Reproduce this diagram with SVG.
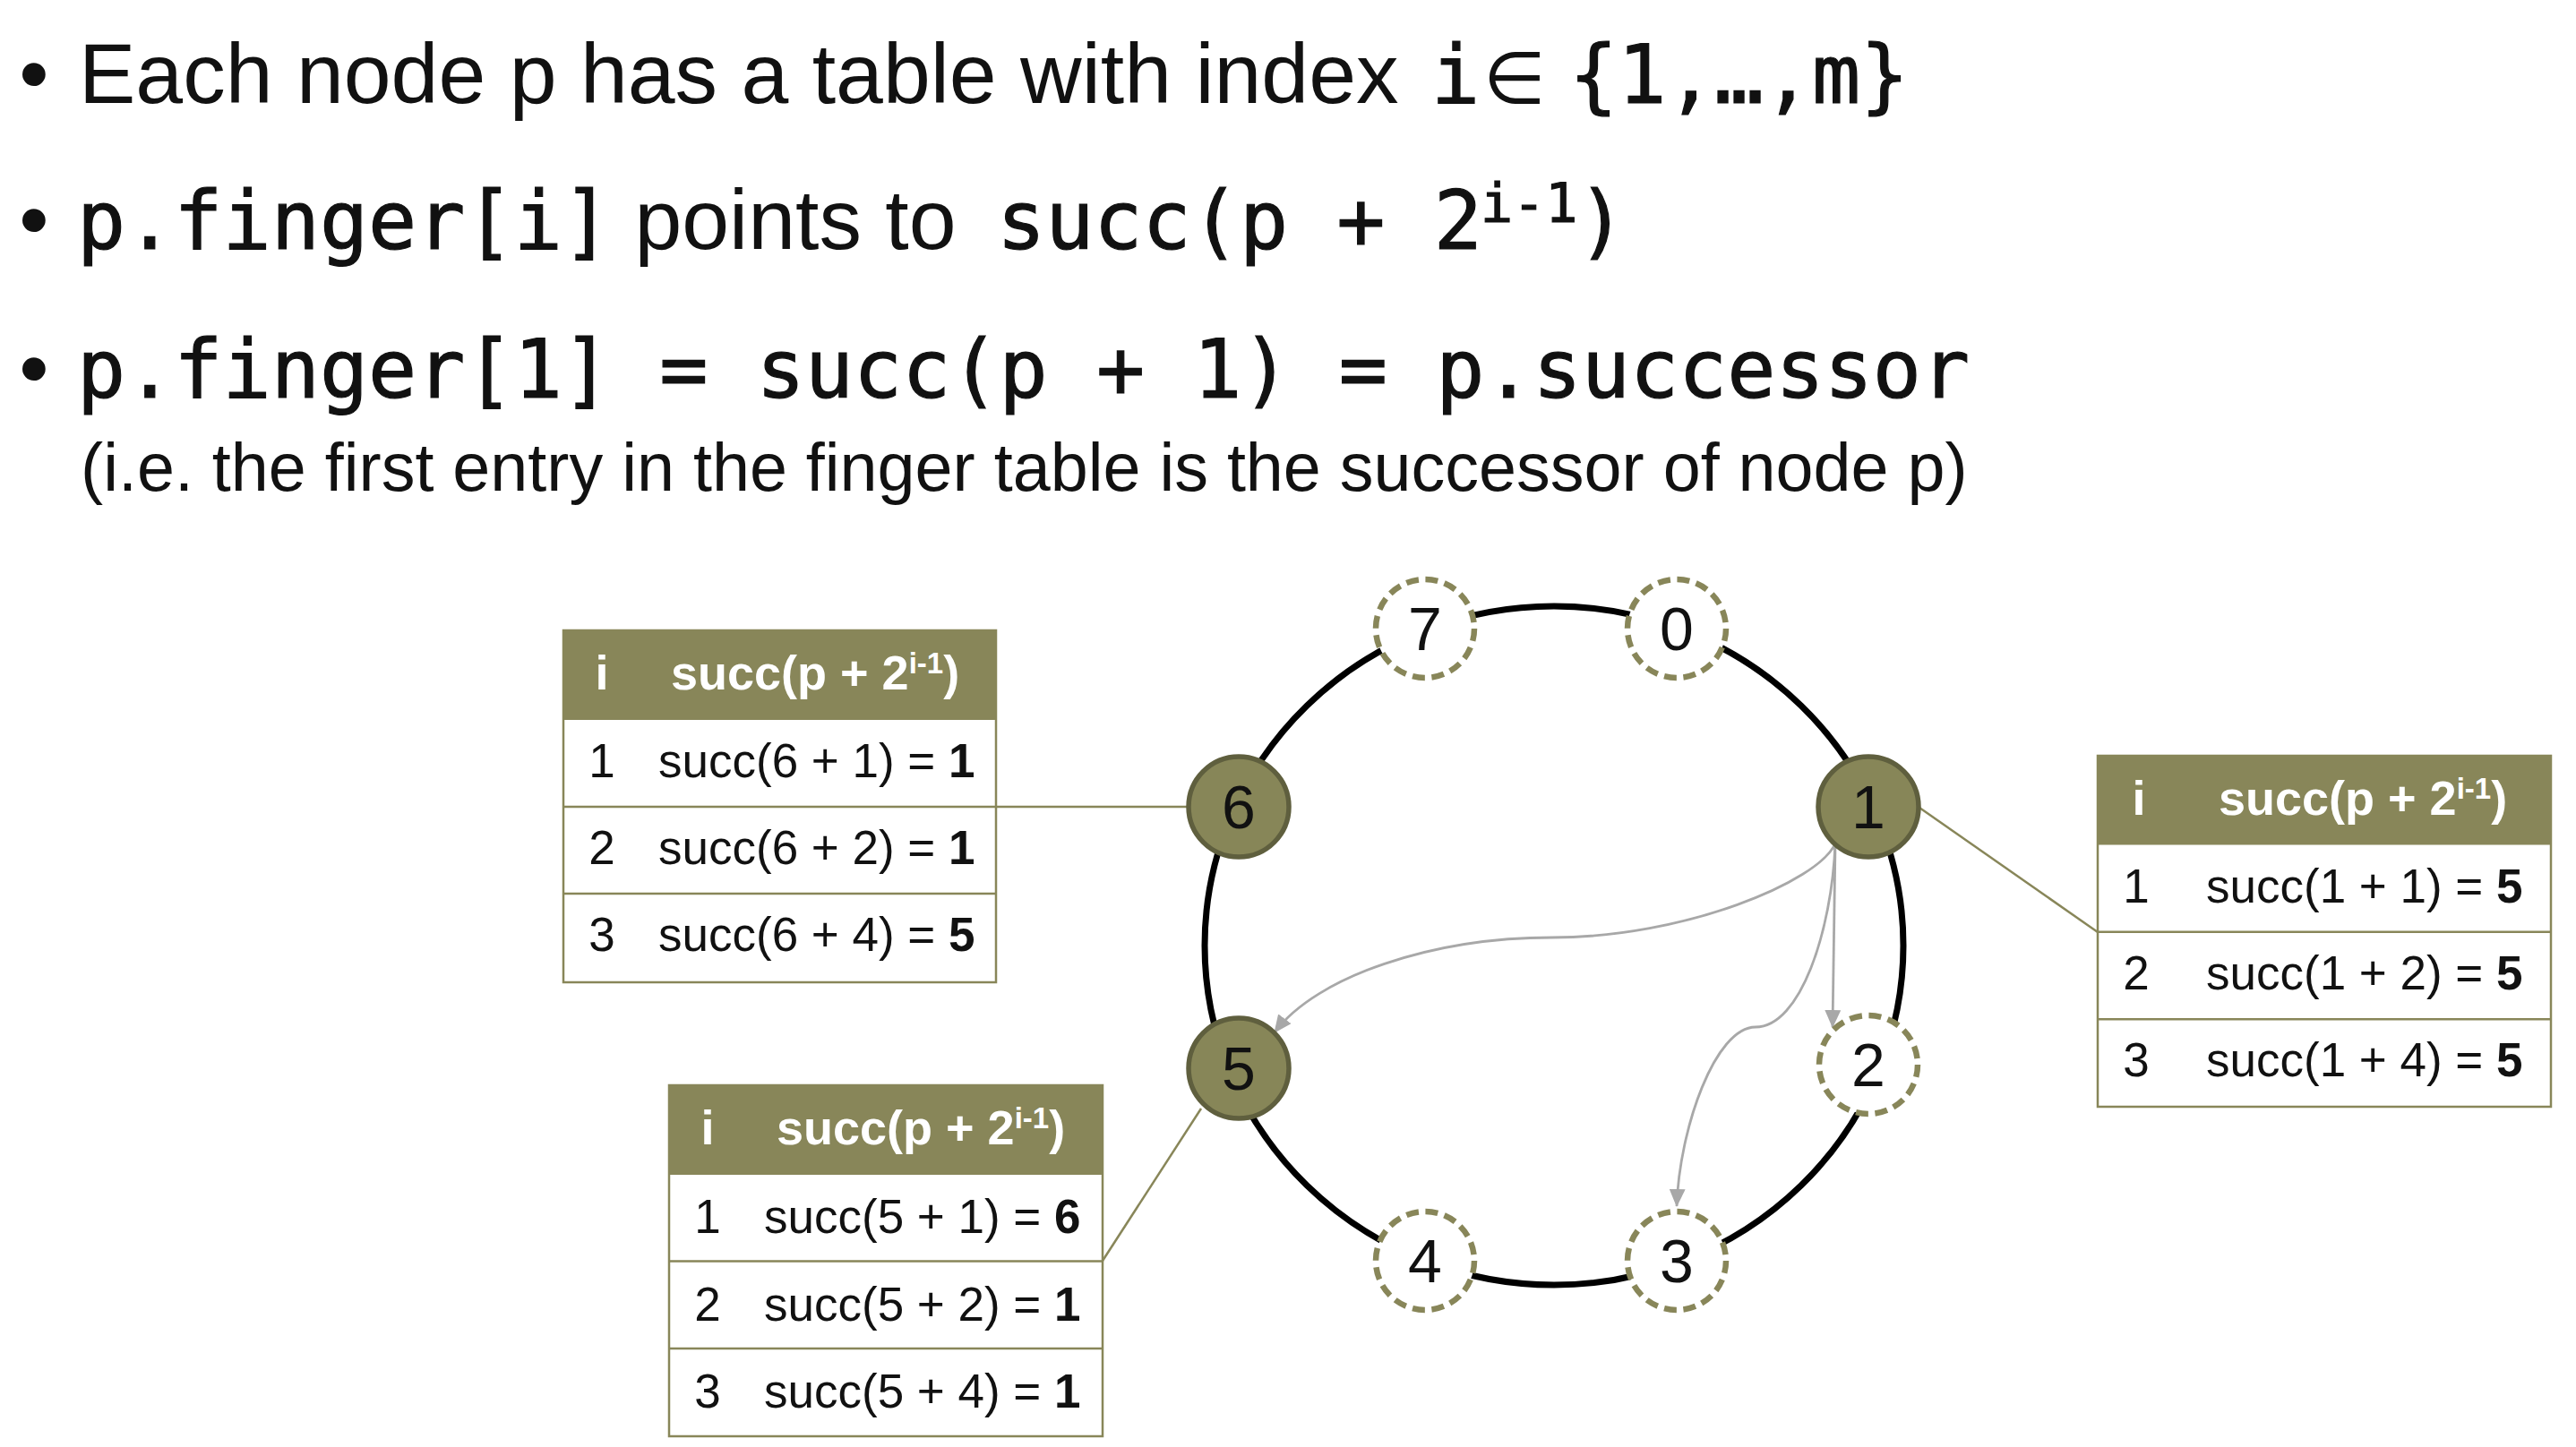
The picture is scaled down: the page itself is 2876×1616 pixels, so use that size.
<svg xmlns="http://www.w3.org/2000/svg" width="2876" height="1616" viewBox="0 0 2876 1616">
<style>
.sans{font-family:"Liberation Sans",Arial,sans-serif;fill:#111}
.mono{font-family:"DejaVu Sans Mono","Liberation Mono",monospace;fill:#111;stroke:#111;stroke-width:1.2}
.l1{font-size:95px}
.m{font-size:90px}
.l4{font-size:75.5px}
.tb{fill:#fff;stroke:#888659;stroke-width:2.5}
.th{fill:#888659}
.sep{stroke:#888659;stroke-width:2.5}
.hd{font-family:"Liberation Sans",Arial,sans-serif;font-weight:bold;fill:#fff;font-size:54px}
.sup{font-size:33px}
.rw{font-family:"Liberation Sans",Arial,sans-serif;font-size:53px;fill:#111}
.b{font-weight:bold}
.ring{fill:none;stroke:#000;stroke-width:7}
.on{fill:#878658;stroke:#5f5f3e;stroke-width:5.5}
.off{fill:#fff;stroke:#888659;stroke-width:6.5;stroke-dasharray:14 7.6}
.nl{font-family:"Liberation Sans",Arial,sans-serif;font-size:68px;fill:#111;text-anchor:middle}
.conn{stroke:#888659;stroke-width:2.5;fill:none}
.arw{stroke:#a8a8a8;stroke-width:2.8;fill:none;marker-end:url(#arr)}
</style>
<defs>
<marker id="arr" markerWidth="20" markerHeight="18" refX="19" refY="9" orient="auto" markerUnits="userSpaceOnUse"><path d="M0,0 L20,9 L0,18 Z" fill="#a8a8a8"/></marker>
</defs>
<rect width="2876" height="1616" fill="#fff"/>

<g id="text">
<text class="sans l1" x="38" y="115" text-anchor="middle">•</text>
<text class="sans l1" x="88" y="115">Each node p has a table with index <tspan class="mono m" x="1598">i</tspan><tspan x="1656" style="font-family:'DejaVu Sans',sans-serif;font-size:80px">∈</tspan><tspan class="mono m" x="1752">{1,…,m}</tspan></text>

<text class="sans l1" x="38" y="278" text-anchor="middle">•</text>
<text class="mono m" x="86" y="278">p.finger[i]<tspan class="sans l1" style="stroke:none"> points to </tspan><tspan x="1113">succ(p + 2</tspan><tspan x="1653" y="248" style="font-size:60px">i-1</tspan><tspan x="1761" y="278">)</tspan></text>

<text class="sans l1" x="38" y="444" text-anchor="middle">•</text>
<text class="mono m" x="86" y="444">p.finger[1] = succ(p + 1) = p.successor</text>

<text class="sans l4" x="90" y="548">(i.e. the first entry in the finger table is the successor of node p)</text>
</g>

<g id="connectors">
<line class="conn" x1="1112" y1="901" x2="1326" y2="901"/>
<line class="conn" x1="1231" y1="1408" x2="1341" y2="1238"/>
<line class="conn" x1="2342" y1="1041" x2="2143" y2="902"/>
<path class="arw" d="M2049,942 L2046,1147"/>
<path class="arw" d="M2049,942 C2030,985 1880,1047 1733,1047 C1600,1047 1470,1090 1423,1153"/>
<path class="arw" d="M2049,942 C2045,1040 2010,1147 1960,1147 C1915,1147 1875,1260 1872,1347"/>
</g>

<ellipse id="ring" class="ring" cx="1735" cy="1056" rx="390" ry="379"/>

<g id="node-0"><circle class="off" cx="1872" cy="702" r="55"/><text class="nl" x="1872" y="726">0</text></g>
<g id="node-1"><circle class="on" cx="2086" cy="901" r="56"/><text class="nl" x="2086" y="925">1</text></g>
<g id="node-2"><circle class="off" cx="2086" cy="1189" r="55"/><text class="nl" x="2086" y="1213">2</text></g>
<g id="node-3"><circle class="off" cx="1872" cy="1408" r="55"/><text class="nl" x="1872" y="1432">3</text></g>
<g id="node-4"><circle class="off" cx="1591" cy="1408" r="55"/><text class="nl" x="1591" y="1432">4</text></g>
<g id="node-5"><circle class="on" cx="1383" cy="1193" r="56"/><text class="nl" x="1383" y="1217">5</text></g>
<g id="node-6"><circle class="on" cx="1383" cy="901" r="56"/><text class="nl" x="1383" y="925">6</text></g>
<g id="node-7"><circle class="off" cx="1591" cy="702" r="55"/><text class="nl" x="1591" y="726">7</text></g>

<g id="table-6">
<rect class="tb" x="629" y="704" width="483" height="393"/>
<rect class="th" x="629" y="704" width="483" height="100"/>
<line class="sep" x1="629" y1="901" x2="1112" y2="901"/>
<line class="sep" x1="629" y1="998" x2="1112" y2="998"/>
<text class="hd" x="672" y="770" text-anchor="middle">i</text>
<text class="hd" x="749" y="770">succ(p + 2<tspan class="sup" dy="-18">i-1</tspan><tspan dy="18">)</tspan></text>
<text class="rw" x="672" y="868" text-anchor="middle">1</text>
<text class="rw" x="735" y="868">succ(6 + 1) = <tspan class="b">1</tspan></text>
<text class="rw" x="672" y="965" text-anchor="middle">2</text>
<text class="rw" x="735" y="965">succ(6 + 2) = <tspan class="b">1</tspan></text>
<text class="rw" x="672" y="1062" text-anchor="middle">3</text>
<text class="rw" x="735" y="1062">succ(6 + 4) = <tspan class="b">5</tspan></text>
</g>

<g id="table-5">
<rect class="tb" x="747" y="1212" width="484" height="392"/>
<rect class="th" x="747" y="1212" width="484" height="100"/>
<line class="sep" x1="747" y1="1408.5" x2="1231" y2="1408.5"/>
<line class="sep" x1="747" y1="1506" x2="1231" y2="1506"/>
<text class="hd" x="790" y="1278" text-anchor="middle">i</text>
<text class="hd" x="867" y="1278">succ(p + 2<tspan class="sup" dy="-18">i-1</tspan><tspan dy="18">)</tspan></text>
<text class="rw" x="790" y="1377" text-anchor="middle">1</text>
<text class="rw" x="853" y="1377">succ(5 + 1) = <tspan class="b">6</tspan></text>
<text class="rw" x="790" y="1475" text-anchor="middle">2</text>
<text class="rw" x="853" y="1475">succ(5 + 2) = <tspan class="b">1</tspan></text>
<text class="rw" x="790" y="1572" text-anchor="middle">3</text>
<text class="rw" x="853" y="1572">succ(5 + 4) = <tspan class="b">1</tspan></text>
</g>

<g id="table-1">
<rect class="tb" x="2342" y="844" width="506" height="392"/>
<rect class="th" x="2342" y="844" width="506" height="99.5"/>
<line class="sep" x1="2342" y1="1040.7" x2="2848" y2="1040.7"/>
<line class="sep" x1="2342" y1="1138.3" x2="2848" y2="1138.3"/>
<text class="hd" x="2388" y="910" text-anchor="middle">i</text>
<text class="hd" x="2477" y="910">succ(p + 2<tspan class="sup" dy="-18">i-1</tspan><tspan dy="18">)</tspan></text>
<text class="rw" x="2385" y="1008" text-anchor="middle">1</text>
<text class="rw" x="2463" y="1008">succ(1 + 1) = <tspan class="b">5</tspan></text>
<text class="rw" x="2385" y="1105" text-anchor="middle">2</text>
<text class="rw" x="2463" y="1105">succ(1 + 2) = <tspan class="b">5</tspan></text>
<text class="rw" x="2385" y="1202" text-anchor="middle">3</text>
<text class="rw" x="2463" y="1202">succ(1 + 4) = <tspan class="b">5</tspan></text>
</g>
</svg>
